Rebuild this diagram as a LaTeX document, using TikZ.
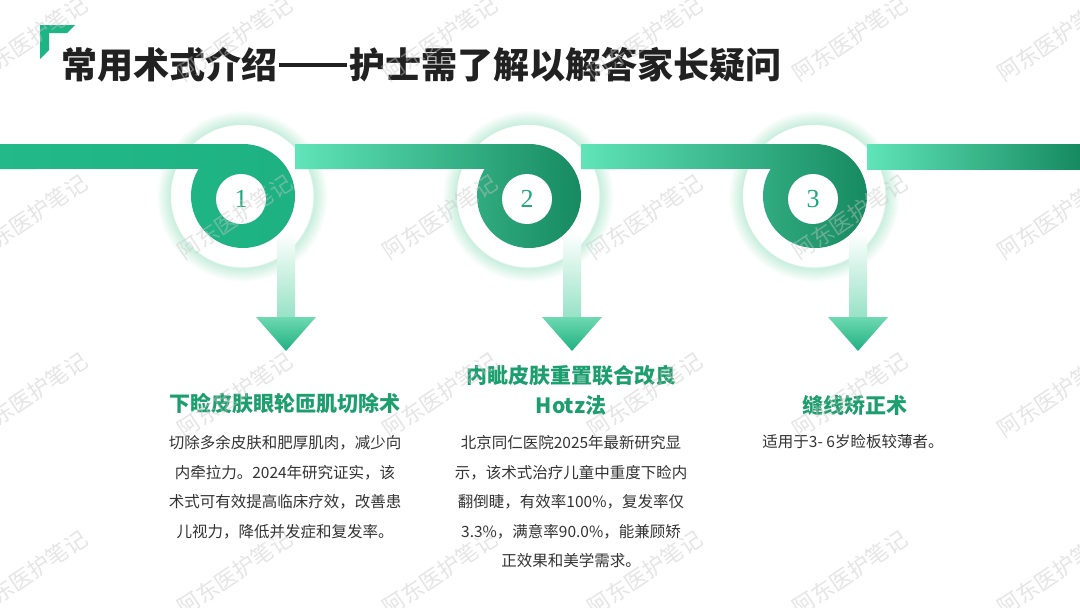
\documentclass[tikz,border=0pt]{standalone}
\usepackage{fontspec}
\setmainfont{Noto Sans CJK SC}
\newfontfamily\numfont{Liberation Serif}
\begin{document}
\begin{tikzpicture}[x=1pt,y=-1pt]
\definecolor{gmid}{RGB}{30,181,132}
\definecolor{glight}{RGB}{96,228,184}
\definecolor{gdark}{RGB}{22,138,97}
\definecolor{ghead}{RGB}{28,158,110}
\definecolor{gtext}{RGB}{51,51,51}
\definecolor{glowc}{RGB}{200,238,222}
\definecolor{stemlo}{RGB}{150,226,198}
\definecolor{arrtop}{RGB}{110,217,178}
\definecolor{arrbot}{RGB}{31,176,127}
\definecolor{numc}{RGB}{34,166,121}
\pgfdeclareradialshading{halo}{\pgfpoint{0bp}{0bp}}{color(0bp)=(white); color(20.4bp)=(white); color(20.9bp)=(glowc); color(25bp)=(white); color(50bp)=(white)}
\tikzset{
  headst/.style={font=\fontsize{21}{30}\selectfont\bfseries, text=ghead, align=center, inner sep=0pt},
  bodyst/.style={font=\fontsize{15.5}{29.5}\selectfont, text=gtext, align=center, inner sep=0pt},
  numst/.style={font=\numfont\fontsize{26}{26}\selectfont, text=numc, inner sep=0pt},
  wmst/.style={font=\fontsize{22}{22}\selectfont, text=gray!45, opacity=0.45, rotate=34, inner sep=0pt},
  stemst/.style={top color=white, bottom color=stemlo},
  headarr/.style={top color=arrtop, bottom color=arrbot},
}
\useasboundingbox (0,0) rectangle (1080,608);
\fill[white] (0,0) rectangle (1080,608);

% corner mark
\fill[gmid] (40,25) -- (75,25) -- (67,33) -- (49,33) -- (49,50) -- (40,59) -- cycle;

% ring centres
\coordinate (c1) at (243,196);
\coordinate (c2) at (529,196);
\coordinate (c3) at (815,196);

% halos
\foreach \cx in {243,529,815}{
  \shade[shading=halo] (\cx-1,196) circle (86);
  \fill[white] (\cx-1,196) circle (71);
}

% stems and arrow heads
\foreach \cx in {243,529,815}{
  \shade[stemst] (\cx+34,232) rectangle (\cx+52,318);
  \shade[headarr] (\cx+13,317) -- (\cx+73,317) -- (\cx+43,351) -- cycle;
}

% band segments with rings
\shade[left color=gmid!92!glight, right color=gmid!92!gdark] (0,144) -- (243,144) arc[start angle=-90, end angle=211.3, radius=52] -- (0,169) -- cycle;
\shade[left color=glight, right color=gdark] (295,144) -- (529,144) arc[start angle=-90, end angle=211.3, radius=52] -- (295,169) -- cycle;
\shade[left color=glight, right color=gdark] (581,144) -- (815,144) arc[start angle=-90, end angle=211.3, radius=52] -- (581,169) -- cycle;
\shade[left color=glight, right color=gdark] (867,144) rectangle (1080,169);

% holes and numbers
\foreach \cx/\n in {243/1,529/2,815/3}{
  \fill[white] (\cx-2,199) circle (25);
  \node[numst] (num\n) at (\cx-2,199) {\n};
}

% title
\node[anchor=west, inner sep=0pt, font=\fontsize{36}{40}\selectfont\bfseries, text=black!87] (title) at (61,65) {常用术式介绍\hspace{2pt}\rule[12.2pt]{68pt}{3.2pt}\hspace{2pt}护士需了解以解答家长疑问};

% headings
\node[headst] (h1) at (285,403) {下睑皮肤眼轮匝肌切除术};
\node[headst] (h2) at (571,390) {内眦皮肤重置联合改良\\Hotz法};
\node[headst] (h3) at (855,405) {缝线矫正术};

% bodies
\node[bodyst] (b1) at (285,487) {切除多余皮肤和肥厚肌肉，减少向\\内牵拉力。2024年研究证实，该\\术式可有效提高临床疗效，改善患\\儿视力，降低并发症和复发率。};
\node[bodyst] (b2) at (571,502) {北京同仁医院2025年最新研究显\\示，该术式治疗儿童中重度下睑内\\翻倒睫，有效率100\%，复发率仅\\3.3\%，满意率90.0\%，能兼顾矫\\正效果和美学需求。};
\node[bodyst] (b3) at (853,442) {适用于3- 6岁睑板较薄者。};

% watermarks
\foreach \x in {30,235,440,645,850,1055}{
  \foreach \y in {39,217,395,573}{
    \node[wmst] (wm-\x-\y) at (\x,\y) {阿东医护笔记};
  }
}
\end{tikzpicture}
\end{document}
